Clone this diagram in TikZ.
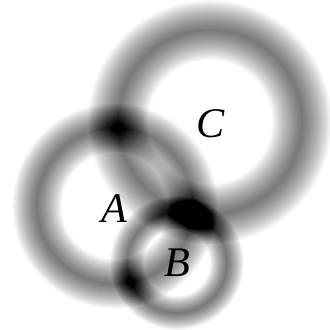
\documentclass[tikz,border=0pt]{standalone}
\usepackage{fontspec}
\setmainfont{Liberation Serif}
\begin{document}
\begin{tikzpicture}[x=0.03cm, y=-0.03cm,
    ringlayer/.style={draw=black, opacity=0.029},
    lbl/.style={font=\itshape\fontsize{36}{40}\selectfont, anchor=base, inner sep=0pt}]
  \fill[white] (0,0) rectangle (330,330);
  \useasboundingbox (0,0) rectangle (330,330);
  % --- ring A ---
  \foreach \k in {1,...,24} {
    \draw[ringlayer, line width=\k*1.75pt] (115,206) circle (78);
  }
  % --- ring C (burn pass darkens the overlaps, then the ring itself) ---
  \begin{scope}[blend mode=color burn]
    \begin{scope}[transparency group]
      \fill[white] (0,0) rectangle (330,330);
      \foreach \k in {1,...,24} {
        \draw[ringlayer, line width=\k*2.12pt] (210,122) circle (92);
      }
    \end{scope}
  \end{scope}
  \foreach \k in {1,...,24} {
    \draw[ringlayer, line width=\k*2.12pt] (210,122) circle (92);
  }
  % --- ring B ---
  \begin{scope}[blend mode=color burn]
    \begin{scope}[transparency group]
      \fill[white] (0,0) rectangle (330,330);
      \foreach \k in {1,...,24} {
        \draw[ringlayer, line width=\k*1.2pt] (177,263) circle (50);
      }
    \end{scope}
  \end{scope}
  \foreach \k in {1,...,24} {
    \draw[ringlayer, line width=\k*1.2pt] (177,263) circle (50);
  }
  % labels
  \node[lbl] (labA) at (114,222) {A};
  \node[lbl] (labB) at (177,276) {B};
  \node[lbl] (labC) at (211,137) {C};
\end{tikzpicture}
\end{document}
